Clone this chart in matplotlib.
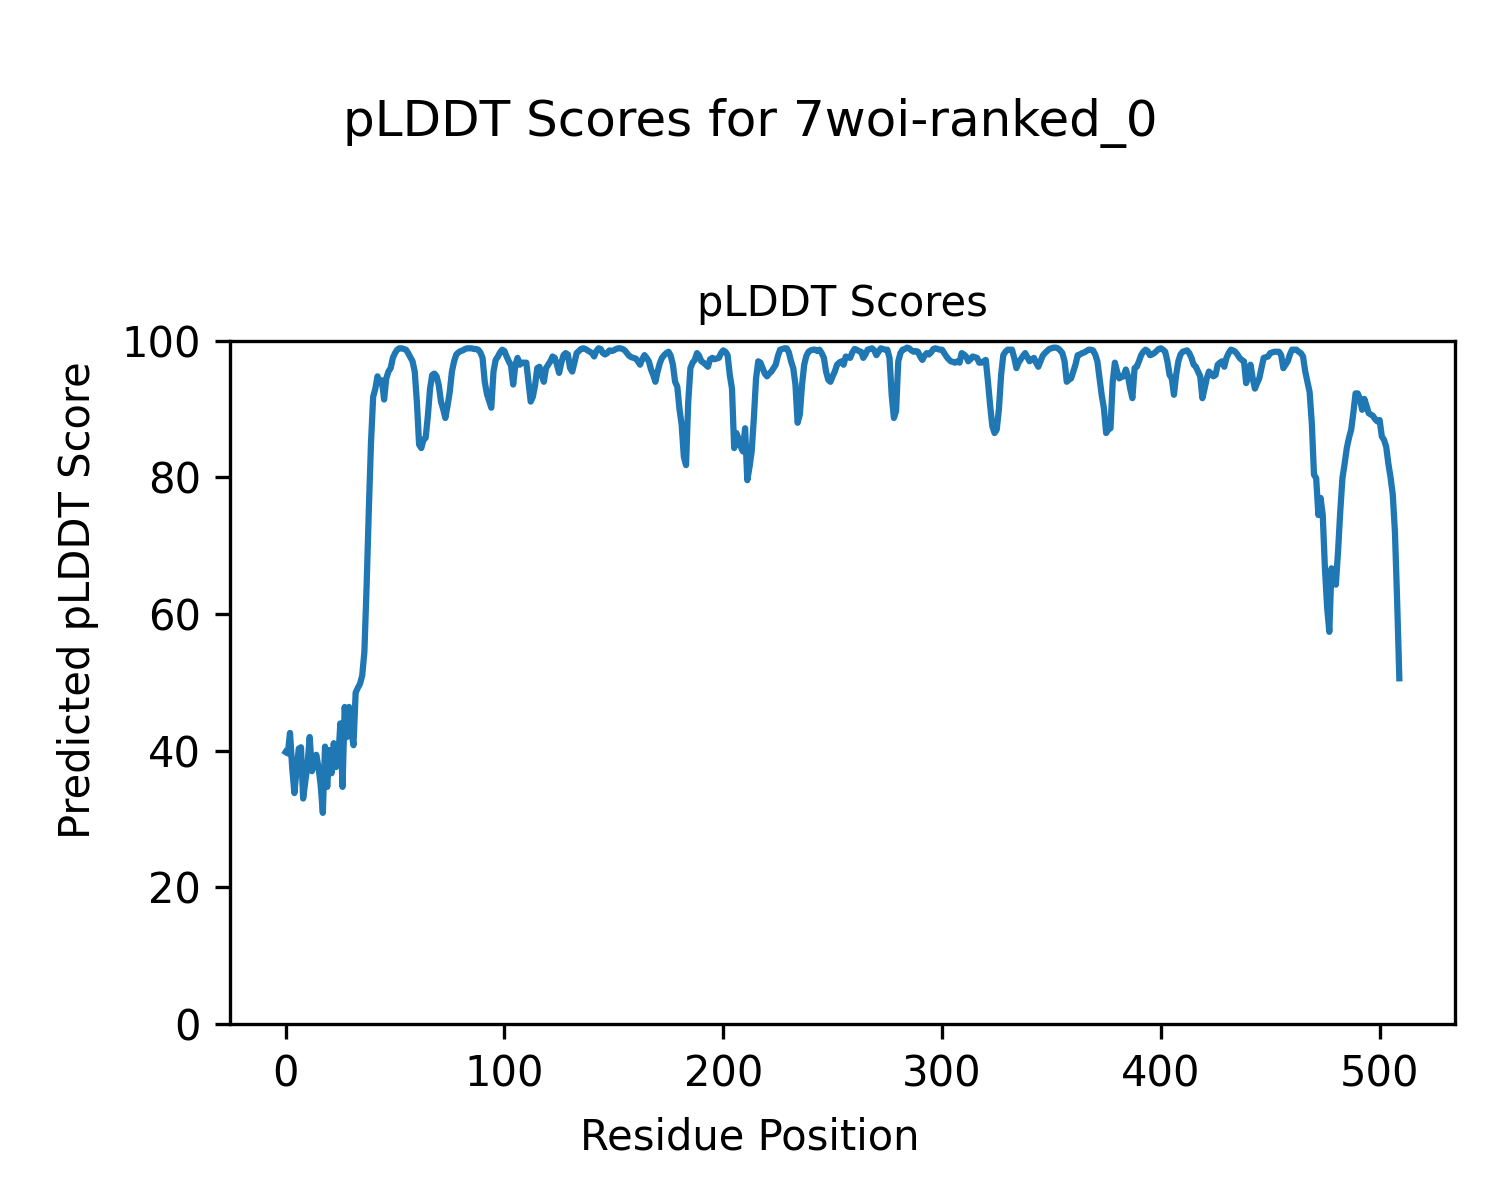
import numpy as np
import matplotlib
matplotlib.use("Agg")
import matplotlib.pyplot as plt

# per-residue pLDDT (residues 0..509)
scores = [
    39.8, 39.6, 42.6, 37.5, 33.8, 37.2, 40.3, 40.5, 33.0, 35.5,
    38.0, 42.0, 37.0, 38.0, 39.4, 37.6, 35.0, 30.9, 40.6, 34.7,
    40.1, 36.7, 41.1, 37.6, 38.5, 44.0, 34.7, 46.4, 42.0, 46.4,
    43.0, 40.8, 48.5, 49.2, 49.8, 51.0, 54.5, 64.0, 75.0, 85.0,
    91.8, 93.0, 94.8, 93.8, 94.2, 91.4, 94.5, 95.5, 96.0, 97.5,
    98.2, 98.7, 98.9, 98.9, 98.8, 98.7, 98.2, 97.6, 97.0, 95.5,
    91.0, 84.8, 84.3, 85.5, 85.8, 89.0, 93.0, 95.0, 95.2, 94.8,
    93.5, 91.1, 90.0, 88.7, 90.5, 92.5, 95.5, 97.0, 98.0, 98.3,
    98.5, 98.6, 98.8, 98.9, 98.9, 98.9, 98.8, 98.8, 98.7, 98.3,
    97.5, 94.0, 92.2, 91.2, 90.2, 95.5, 97.2, 97.7, 98.3, 98.7,
    98.5, 97.7, 97.0, 96.4, 93.6, 96.5, 97.5, 96.5, 96.8, 96.8,
    96.8, 94.0, 91.1, 91.8, 93.5, 96.0, 96.2, 95.0, 94.0, 96.0,
    96.5, 97.0, 97.7, 97.5, 96.5, 95.3, 96.8, 97.9, 98.2, 98.0,
    96.0, 95.5, 96.8, 98.2, 98.5, 98.8, 98.9, 98.8, 98.6, 98.4,
    98.2, 97.7, 98.5, 98.9, 98.8, 98.2, 98.0, 98.2, 98.6, 98.5,
    98.6, 98.8, 98.9, 98.9, 98.8, 98.6, 98.2, 97.8, 97.6, 97.5,
    97.4, 97.0, 96.5, 97.3, 97.9, 97.5, 97.0, 95.8, 95.0, 94.0,
    95.5, 96.7, 97.5, 97.9, 98.2, 98.4, 97.8, 96.5, 94.0, 93.3,
    90.0, 87.7, 83.0, 81.8, 91.0, 96.0, 96.8, 97.2, 98.2, 97.8,
    97.0, 96.8, 96.5, 96.2, 97.3, 97.5, 97.3, 97.4, 97.5, 98.2,
    98.6, 98.4, 97.9, 95.0, 93.0, 84.3, 86.5, 85.7, 84.5, 83.8,
    87.2, 79.6, 81.5, 83.8, 88.7, 94.5, 97.0, 96.8, 96.0, 95.2,
    94.8, 95.2, 95.5, 96.0, 96.5, 97.8, 98.7, 98.8, 98.9, 98.9,
    98.3, 97.0, 96.0, 93.6, 88.0, 89.2, 93.5, 96.5, 97.8, 98.4,
    98.6, 98.7, 98.7, 98.5, 98.7, 98.2, 97.5, 95.5, 94.3, 94.0,
    94.8, 95.5, 96.5, 96.8, 97.0, 96.5, 97.7, 97.6, 97.5, 98.3,
    98.8, 98.7, 98.5, 98.4, 97.5, 98.0, 98.7, 98.8, 98.9, 98.6,
    97.9, 98.4, 98.9, 98.8, 98.7, 98.7, 97.5, 92.0, 88.7, 89.7,
    97.0, 98.2, 98.7, 98.8, 99.0, 98.9, 98.6, 98.4, 98.5, 98.4,
    97.7, 97.2, 97.8, 98.2, 98.0, 98.3, 98.8, 98.9, 98.8, 98.7,
    98.7, 98.2, 97.7, 97.3, 97.0, 96.9, 96.8, 97.0, 96.8, 98.2,
    98.0, 97.7, 97.0, 97.3, 97.7, 97.6, 97.5, 96.8, 96.8, 97.0,
    97.2, 94.0, 90.5, 87.5, 86.5, 87.0, 90.0, 95.0, 97.9, 98.4,
    98.7, 98.7, 98.7, 97.5, 96.0, 96.8, 97.3, 97.8, 98.2, 97.6,
    97.0, 97.3, 97.5, 96.8, 96.2, 97.0, 97.8, 98.2, 98.5, 98.8,
    98.9, 99.0, 99.0, 98.9, 98.6, 98.2, 97.0, 94.0, 94.3, 94.5,
    95.5, 96.5, 97.9, 98.0, 98.2, 98.3, 98.5, 98.7, 98.7, 98.6,
    98.0, 97.0, 94.5, 92.0, 90.1, 86.5, 87.0, 87.2, 94.0, 96.8,
    95.5, 94.5, 94.7, 94.8, 95.8, 94.8, 93.0, 91.6, 96.0, 96.2,
    97.0, 97.9, 98.4, 98.7, 98.5, 97.9, 98.0, 98.2, 98.5, 98.8,
    98.9, 98.7, 98.4, 97.0, 95.0, 94.5, 92.1, 95.0, 97.0, 98.0,
    98.4, 98.5, 98.6, 98.2, 97.5, 96.5, 96.2, 95.5, 94.8, 91.6,
    93.0, 94.5, 95.5, 95.2, 94.8, 95.0, 96.5, 96.8, 97.0, 96.2,
    97.5, 98.2, 98.7, 98.6, 98.4, 98.0, 97.5, 97.2, 97.0, 93.8,
    95.0, 96.5, 94.5, 93.0, 93.8, 94.5, 96.0, 97.5, 97.6, 97.7,
    98.2, 98.3, 98.4, 98.4, 98.4, 97.9, 96.0, 96.5, 97.0, 98.0,
    98.7, 98.7, 98.7, 98.4, 98.2, 97.7, 95.5, 94.0, 92.5, 88.0,
    80.4, 79.9, 74.5, 77.0, 74.5, 66.7, 61.0, 57.4, 66.7, 64.5,
    64.3, 69.2, 75.0, 79.9, 82.0, 84.3, 85.8, 87.0, 89.5, 92.3,
    92.3, 91.5, 89.9, 91.5, 90.5, 89.4, 89.2, 89.0, 88.5, 88.2,
    88.4, 86.0, 85.5, 84.5, 82.0, 80.0, 77.5, 72.0, 62.0, 50.6,
]
residues = np.arange(len(scores))

model_name = '7woi-ranked_0'

fig = plt.figure(figsize=(5, 4), dpi=300)
ax = fig.add_axes([0.1533, 0.1467, 0.8167, 0.5693])

ax.plot(residues, scores, color='#1f77b4', linewidth=1.5)
ax.set_ylim(0, 100)
ax.set_title('pLDDT Scores', fontsize=10)

fig.suptitle('pLDDT Scores for %s' % model_name, fontsize=12, y=0.918)
fig.supxlabel('Residue Position', fontsize=10, y=0.035)
fig.supylabel('Predicted pLDDT Score', fontsize=10, x=0.038)

fig.savefig('out.png', dpi=300)
